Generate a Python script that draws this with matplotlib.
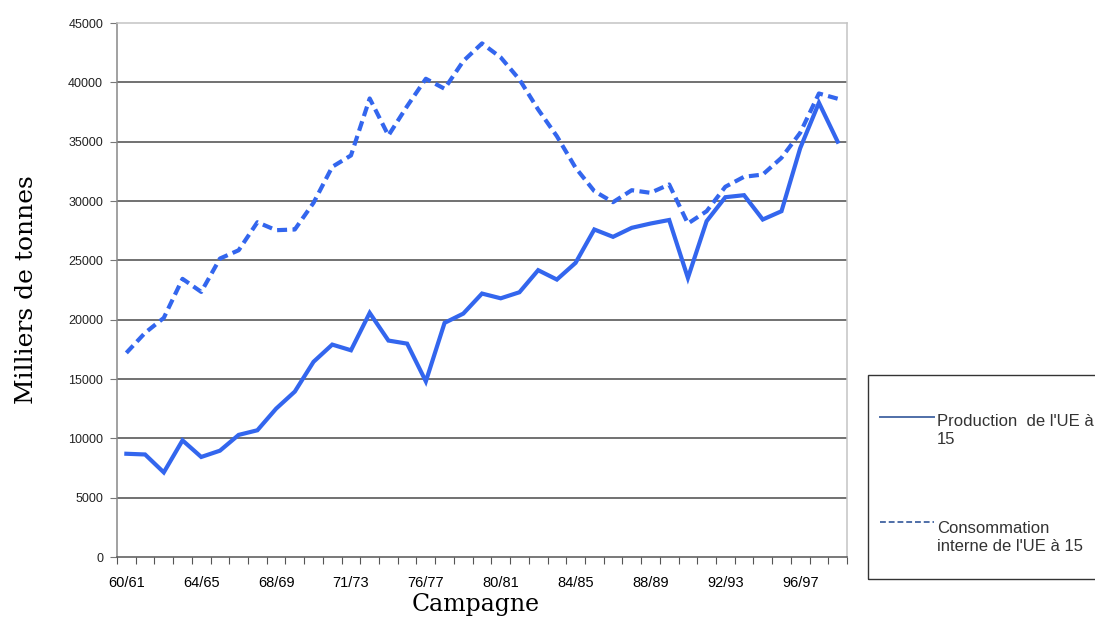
import numpy as np
import matplotlib
matplotlib.use("Agg")
import matplotlib.pyplot as plt
from matplotlib.patches import Rectangle
from matplotlib.lines import Line2D

# campagnes 60/61 .. 98/99
campagnes = ["60/61", "61/62", "62/63", "63/64", "64/65", "65/66", "66/67", "67/68",
             "68/69", "69/70", "70/71", "71/72", "71/73", "73/74", "74/75", "75/76",
             "76/77", "77/78", "78/79", "79/80", "80/81", "81/82", "82/83", "83/84",
             "84/85", "85/86", "86/87", "87/88", "88/89", "89/90", "90/91", "91/92",
             "92/93", "93/94", "94/95", "95/96", "96/97", "97/98", "98/99"]

production = [8700, 8640, 7130, 9830, 8430, 8960, 10290, 10680, 12500, 13940,
              16450, 17900, 17420, 20570, 18240, 17980, 14800, 19730, 20510, 22200,
              21800, 22310, 24170, 23380, 24790, 27600, 26980, 27740, 28100, 28400,
              23520, 28300, 30320, 30490, 28440, 29140, 34450, 38280, 35000]

consommation = [17200, 18890, 20150, 23440, 22340, 25150, 25850, 28210, 27540, 27600,
                29850, 32880, 33840, 38640, 35520, 37990, 40300, 39460, 41790, 43280,
                42100, 40240, 37710, 35460, 32800, 30830, 29900, 30910, 30690, 31390,
                28100, 29140, 31200, 32040, 32230, 33640, 35750, 39060, 38620]

labels_shown = ["60/61", "64/65", "68/69", "71/73", "76/77", "80/81",
                "84/85", "88/89", "92/93", "96/97"]

blue = "#3366EE"

fig = plt.figure(figsize=(10.95, 6.22), dpi=100)
ax = fig.add_axes([117 / 1095, 1 - 557 / 622, 730 / 1095, 534 / 622])

x = np.arange(len(campagnes))
ax.plot(x, production, color=blue, lw=3, solid_joinstyle="miter")
ax.plot(x, consommation, color=blue, lw=3, linestyle=(0, (2.4, 1.3)))

ax.set_xlim(-0.5, len(campagnes) - 0.5)
ax.set_ylim(0, 45000)

# horizontal grid
ax.set_yticks(np.arange(0, 45001, 5000))
for v in range(5000, 45000, 5000):
    ax.axhline(v, color="#4a4a4a", lw=1.1, zorder=0)

# category ticks at boundaries, labels every 4th campagne
ax.set_xticks(np.arange(-0.5, len(campagnes), 1))
ax.set_xticklabels([])
pos = [campagnes.index(l) for l in labels_shown]
ax.set_xticks(pos, minor=True)
ax.set_xticklabels(labels_shown, minor=True)
ax.tick_params(axis="x", which="minor", length=0, pad=14, labelsize=10.5)
ax.tick_params(axis="x", which="major", length=5, color="#555555", direction="out")
ax.tick_params(axis="y", length=5, color="#777777", pad=5, labelsize=9,
               labelcolor="#222222")
for lab in ax.get_xticklabels(minor=True) + ax.get_yticklabels():
    lab.set_family("Liberation Sans")

ax.spines["left"].set_color("#888888")
ax.spines["bottom"].set_color("#555555")
ax.spines["top"].set_color("#c4c4c4")
ax.spines["right"].set_color("#c4c4c4")
for s in ax.spines.values():
    s.set_linewidth(1.1)

ax.set_ylabel("Milliers de tonnes", family="DejaVu Serif", fontsize=18, labelpad=22)
fig.text(476 / 1095, 1 - 604 / 622, "Campagne", family="DejaVu Serif",
         fontsize=17, ha="center", va="center")

# legend box (runs off the right edge as in the original)
fig.patches.append(Rectangle((868 / 1095, 1 - 579 / 622), 0.3, 204 / 622,
                             transform=fig.transFigure, fill=False,
                             edgecolor="#333333", lw=1.0))
leg_col = "#4f6fa8"
fig.lines.append(Line2D([880 / 1095, 934 / 1095], [1 - 417 / 622] * 2,
                        transform=fig.transFigure, color=leg_col, lw=1.4))
fig.lines.append(Line2D([880 / 1095, 934 / 1095], [1 - 522 / 622] * 2,
                        transform=fig.transFigure, color=leg_col, lw=1.4,
                        linestyle=(0, (3, 1.5))))
fig.text(937 / 1095, 1 - 444 / 622, "Production  de l'UE à\n15", family="Liberation Sans",
         fontsize=12, color="#333333", ha="left", va="baseline", linespacing=1.25)
fig.text(937 / 1095, 1 - 551 / 622, "Consommation\ninterne de l'UE à 15",
         family="Liberation Sans", fontsize=12, color="#333333", ha="left",
         va="baseline", linespacing=1.25)

fig.savefig("out.png", dpi=100)
